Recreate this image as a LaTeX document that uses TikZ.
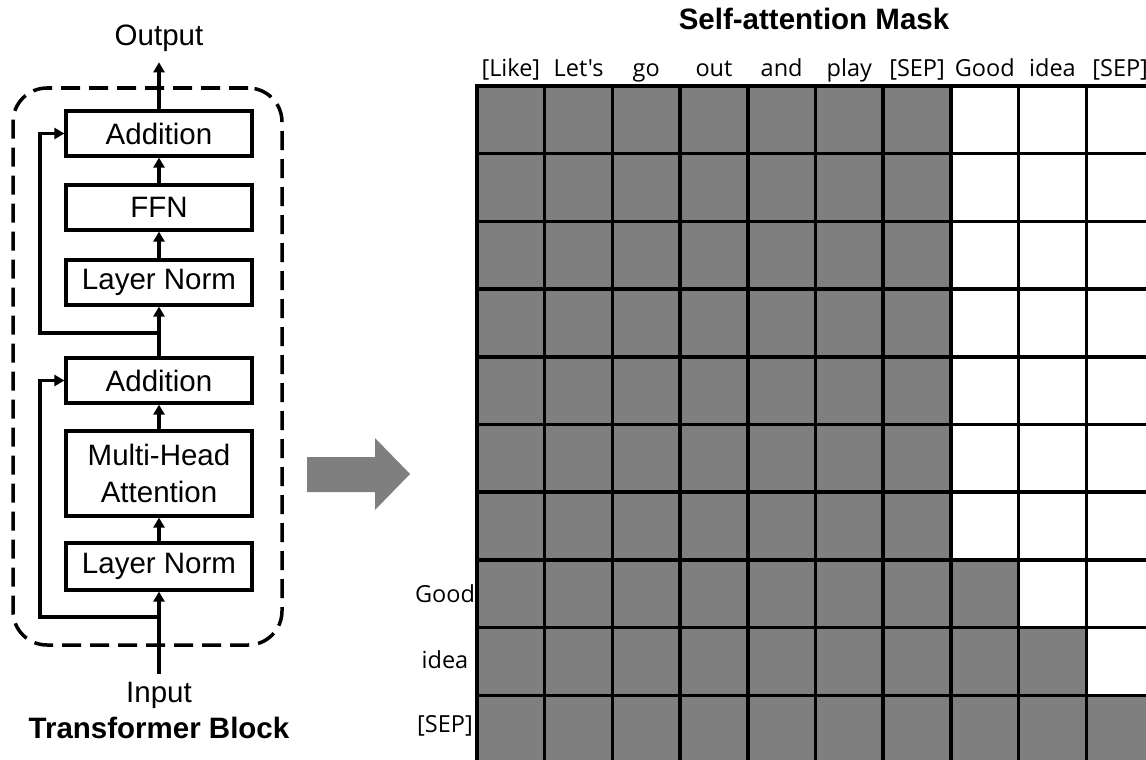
\documentclass[tikz,border=0pt]{standalone}
\usepackage{fontspec}
\setmainfont{Liberation Sans}
\newfontfamily\tokfont{Open Sans}
\usetikzlibrary{arrows.meta}
\definecolor{maskgray}{HTML}{7F7F7F}
\begin{document}
\begin{tikzpicture}[x=1pt,y=-1pt,
  blk/.style={draw,line width=3.2pt,minimum width=186pt,minimum height=45pt,inner sep=0pt,
    font=\fontsize{29.5}{37}\selectfont,align=center},
  flow/.style={line width=3.2pt,-{Triangle[width=11pt,length=10pt]}},
  lbl/.style={font=\fontsize{29.5}{36}\selectfont,inner sep=0pt,anchor=base},
  ttl/.style={font=\fontsize{29.5}{36}\selectfont\bfseries,inner sep=0pt,anchor=base},
  tok/.style={font=\tokfont\fontsize{23.5}{28}\selectfont,inner sep=0pt,anchor=base},
  gridln/.style={line width=3.5pt,line cap=rect}
]
% canvas
\fill[white] (0,0) rectangle (1146,760);
\useasboundingbox (0,0) rectangle (1146,760);

% ---------- transformer block ----------
\node[draw,line width=3.5pt,dash pattern=on 19pt off 9pt,rounded corners=34pt,
  minimum width=269pt,minimum height=557pt,inner sep=0pt] (block) at (147.5,366.5) {};

\node[blk] (add1) at (159,133.5) {Addition};
\node[blk] (ffn)  at (159,207.5) {FFN};
\node[blk] (ln1)  at (159,282.5) {Layer Norm};
\node[blk] (add2) at (159,380.5) {Addition};
\node[blk,minimum height=85pt] (mha) at (159,473.5) {Multi-Head\\Attention};
\node[blk,minimum height=47pt] (ln2) at (159,566.5) {Layer Norm};

\node[lbl,inner ysep=10pt] (out) at (159,46) {Output};
\node[lbl,inner ysep=8pt] (inp) at (159,702) {Input};
\node[ttl] (blkname) at (159,738) {Transformer Block};

\coordinate (rail) at (40,0);
\coordinate (b1) at (159,333);
\coordinate (b2) at (159,617);

\draw[flow] (inp.north) -- (ln2.south);
\draw[flow] (ln2.north) -- (mha.south);
\draw[flow] (mha.north) -- (add2.south);
\draw[flow] (add2.north) -- (ln1.south);
\draw[flow] (ln1.north) -- (ffn.south);
\draw[flow] (ffn.north) -- (add1.south);
\draw[flow] (add1.north) -- (out.south);
\draw[flow] (b2) -- (b2 -| rail) |- (add2.west);
\draw[flow] (b1) -- (b1 -| rail) |- (add1.west);

% ---------- transition arrow ----------
\fill[maskgray] (307,457) -- (375,457) -- (375,438) -- (410,474) -- (375,510)
  -- (375,492) -- (307,492) -- cycle;

% ---------- attention mask ----------
\node[ttl] (title) at (814,30) {Self-attention Mask};

\node[tok] (c0) at ({510.85+0*67.7},77) {[Like]};
\node[tok] (c1) at ({510.85+1*67.7},77) {Let's};
\node[tok] (c2) at ({510.85+2*67.7},77) {go};
\node[tok] (c3) at ({510.85+3*67.7},77) {out};
\node[tok] (c4) at ({510.85+4*67.7},77) {and};
\node[tok] (c5) at ({510.85+5*67.7},77) {play};
\node[tok] (c6) at ({510.85+6*67.7},77) {[SEP]};
\node[tok] (c7) at ({510.85+7*67.7},77) {Good};
\node[tok] (c8) at ({510.85+8*67.7},77) {idea};
\node[tok] (c9) at ({510.85+9*67.7},77) {[SEP]};

\node[tok] (r7) at (445,602) {Good};
\node[tok] (r8) at (445,668) {idea};
\node[tok] (r9) at (445,732) {[SEP]};

\begin{scope}
  \clip (0,0) rectangle (1146,760);
  % visible (grey) cells: each row sees the first segment and its own prefix
  \foreach \r in {0,...,9}{
    \foreach \c in {0,...,9}{
      \pgfmathtruncatemacro\lim{max(6,\r)}
      \ifnum\c>\lim\relax\else
        \fill[maskgray] ({477+\c*67.7},{86+\r*67.7}) rectangle ++(67.7,67.7);
      \fi
    }
  }
  \foreach \i in {0,...,10}{
    \draw[gridln] ({477+\i*67.7},86) -- ({477+\i*67.7},{86+10*67.7});
    \draw[gridln] (477,{86+\i*67.7}) -- ({477+10*67.7},{86+\i*67.7});
  }
\end{scope}
\end{tikzpicture}
\end{document}
